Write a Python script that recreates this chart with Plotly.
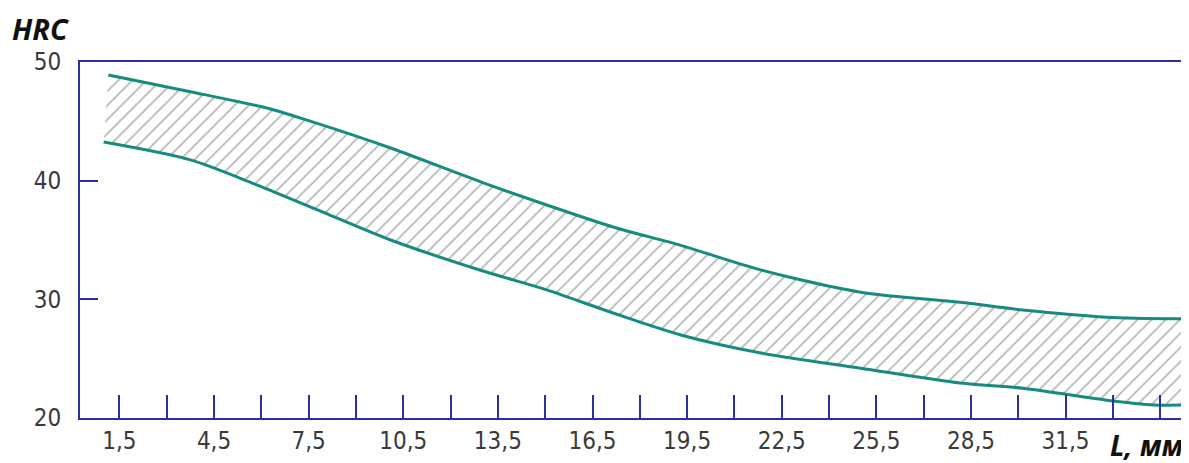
import plotly.graph_objects as go

# Данные: твёрдость HRC по глубине L, мм (полоса прокаливаемости)
upper_l = [1.15, 3.75, 6.2, 7.45, 10.1, 12.95, 15.05, 17.15, 19.3, 21.8, 25.0, 28.15, 30.15, 32.8, 35.4]
upper_hrc = [48.9, 47.5, 46.1, 45.1, 42.75, 39.9, 37.95, 36.1, 34.55, 32.5, 30.6, 29.75, 29.1, 28.5, 28.35]

lower_l = [1.0, 3.75, 5.85, 7.95, 10.1, 12.95, 15.05, 17.15, 19.3, 21.8, 25.0, 28.15, 30.15, 32.8, 34.3, 35.4]
lower_hrc = [43.25, 41.75, 39.65, 37.35, 35.0, 32.45, 30.8, 28.85, 27.0, 25.5, 24.2, 22.95, 22.5, 21.5, 21.1, 21.1]

x_ticks = [1.5, 3, 4.5, 6, 7.5, 9, 10.5, 12, 13.5, 15, 16.5, 18, 19.5, 21,
           22.5, 24, 25.5, 27, 28.5, 30, 31.5, 33, 34.5]
x_labels = ['1,5', '', '4,5', '', '7,5', '', '10,5', '', '13,5', '', '16,5', '',
            '19,5', '', '22,5', '', '25,5', '', '28,5', '', '31,5', '', '']
y_ticks = [20, 30, 40, 50]

AXIS = '#2e2ea0'
CURVE = '#178b80'
TICK_FONT = dict(family='DejaVu Sans Condensed, Liberation Sans Narrow, sans-serif', size=24, color='#3a3a3a')

fig = go.Figure()

# Нижняя граница
fig.add_trace(go.Scatter(
    x=lower_l, y=lower_hrc, mode='lines',
    line=dict(color=CURVE, width=3, shape='spline', smoothing=0.8),
    showlegend=False, hoverinfo='skip'
))

# Верхняя граница с штриховкой между кривыми
fig.add_trace(go.Scatter(
    x=upper_l, y=upper_hrc, mode='lines',
    line=dict(color=CURVE, width=3, shape='spline', smoothing=0.8),
    fill='tonexty', fillcolor='rgba(255,255,255,0)',
    fillpattern=dict(shape='/', size=10, solidity=0.18, fgcolor='#6e6e6e', bgcolor='rgba(255,255,255,0)'),
    showlegend=False, hoverinfo='skip'
))

fig.update_xaxes(
    range=[0.25, 35.35], tickvals=x_ticks, ticktext=x_labels,
    ticks='inside', ticklen=23, tickwidth=2, tickcolor=AXIS,
    showline=True, linecolor=AXIS, linewidth=2, mirror=True,
    showgrid=False, zeroline=False, tickfont=TICK_FONT, ticklabelstandoff=0,
    automargin=False
)
fig.update_yaxes(
    range=[20, 50], tickvals=y_ticks,
    ticks='inside', ticklen=18, tickwidth=2, tickcolor=AXIS,
    showline=True, linecolor=AXIS, linewidth=2, mirror=True,
    showgrid=False, zeroline=False, tickfont=TICK_FONT, ticklabelstandoff=12,
    automargin=False
)

fig.add_annotation(
    text='HRC', xref='paper', yref='paper', x=-0.063, y=1.093,
    xanchor='left', yanchor='middle', showarrow=False,
    font=dict(family='Open Sans, sans-serif', size=29, color='#111111', weight='bold', style='italic')
)
fig.add_annotation(
    text='L, мм', xref='paper', yref='paper', x=0.998, y=-0.076,
    xanchor='right', yanchor='middle', showarrow=False,
    font=dict(family='Open Sans, sans-serif', size=28, color='#111111', weight='bold', style='italic')
)

# страница добавляет отступ 8 px, поэтому размер и поля уменьшены
fig.update_layout(
    width=1181, height=455,
    margin=dict(l=72, r=2, t=54, b=45),
    plot_bgcolor='white', paper_bgcolor='white',
    template='plotly_white'
)

fig.write_html('out.html')
